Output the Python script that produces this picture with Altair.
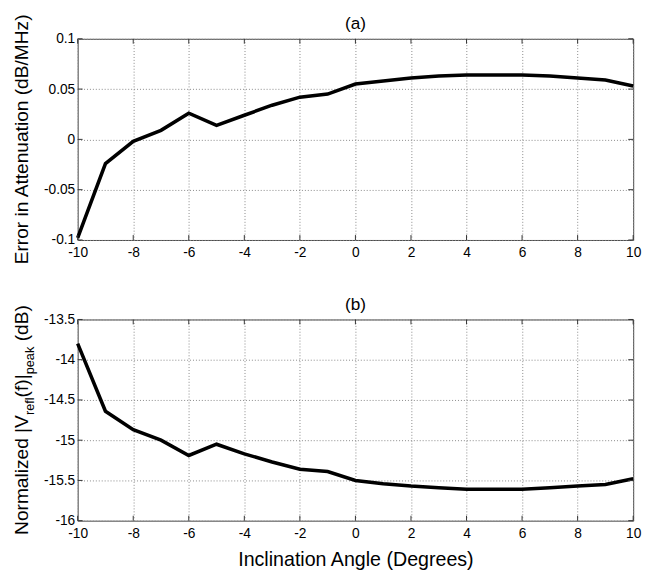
import altair as alt
import pandas as pd

# ---------------- data ----------------
angles = list(range(-10, 11))
atten_err = [-0.098, -0.024, -0.002, 0.009, 0.026, 0.014, 0.024, 0.034, 0.042,
             0.045, 0.055, 0.058, 0.061, 0.063, 0.064, 0.064, 0.064, 0.063,
             0.061, 0.059, 0.053]
vrefl_peak = [-13.80, -14.64, -14.87, -15.00, -15.19, -15.05, -15.17, -15.27,
              -15.36, -15.39, -15.50, -15.54, -15.57, -15.59, -15.61, -15.61,
              -15.61, -15.59, -15.57, -15.55, -15.48]
x_ticks = [-10, -8, -6, -4, -2, 0, 2, 4, 6, 8, 10]
ya_ticks = [-0.1, -0.05, 0, 0.05, 0.1]
yb_ticks = [-16, -15.5, -15, -14.5, -14, -13.5]

FONT = "Liberation Sans"
W, H = 566, 205
TITLE_FS = 19.5
SUB_FS = 13
BASE_X = -51      # baseline of rotated y title (relative to plot left)
SUB_SHIFT = 6
TICK_LEN = 5
TICK_COLOR = "#333333"

# Arial / Liberation Sans advance widths (per 1000 em)
ARIAL_W = {' ': 278, '(': 333, ')': 333, '|': 260, 'N': 722, 'o': 556, 'r': 333,
           'm': 833, 'a': 556, 'l': 222, 'i': 222, 'z': 500, 'e': 556, 'd': 556,
           'V': 667, 'f': 278, 'p': 556, 'k': 500, 'B': 667}


def text_width(s, size):
    return sum(ARIAL_W.get(c, 556) for c in s) * size / 1000.0


def one_row():
    return alt.Chart(pd.DataFrame({"k": [0]}))


def make_panel(values, yticks, title, xtitle, ylabel_layers):
    df = pd.DataFrame({"angle": angles, "val": values})
    xscale = alt.Scale(domain=[x_ticks[0], x_ticks[-1]], nice=False, zero=False)
    yscale = alt.Scale(domain=[yticks[0], yticks[-1]], nice=False, zero=False)
    xaxis = alt.Axis(values=x_ticks, labelExpr="toString(datum.value)")
    yaxis = alt.Axis(values=yticks, labelExpr="toString(datum.value)")

    def X(field):
        return alt.X(field, title=xtitle, axis=xaxis, scale=xscale)

    def Y(field):
        return alt.Y(field, title=None, axis=yaxis, scale=yscale)

    line = alt.Chart(df).mark_line(color="black", strokeWidth=3.6).encode(
        x=X("angle:Q"), y=Y("val:Q"))

    xt = alt.Chart(pd.DataFrame({"v": x_ticks}))
    yt = alt.Chart(pd.DataFrame({"v": yticks}))
    rule = dict(color=TICK_COLOR, strokeWidth=1)
    ticks = [
        xt.mark_rule(**rule).encode(x=X("v:Q"), y=alt.value(H), y2=alt.value(H - TICK_LEN)),
        xt.mark_rule(**rule).encode(x=X("v:Q"), y=alt.value(0), y2=alt.value(TICK_LEN)),
        yt.mark_rule(**rule).encode(y=Y("v:Q"), x=alt.value(0), x2=alt.value(TICK_LEN)),
        yt.mark_rule(**rule).encode(y=Y("v:Q"), x=alt.value(W), x2=alt.value(W - TICK_LEN)),
    ]
    ttl = one_row().mark_text(text=title, align="center", baseline="alphabetic", font=FONT,
                              fontSize=17.5, color="black").encode(
        x=alt.value(W / 2), y=alt.value(-10))
    return alt.layer(line, *ticks, ttl, *ylabel_layers).properties(width=W, height=H)


# ---- panel (a) ----
ylab_a = [one_row().mark_text(text="Error in Attenuation (dB/MHz)", angle=270, align="center",
                              baseline="alphabetic", font=FONT, fontSize=TITLE_FS, color="black"
                              ).encode(x=alt.value(BASE_X), y=alt.value(H / 2))]
top = make_panel(atten_err, ya_ticks, "(a)", None, ylab_a)

# ---- panel (b): label with subscripts, built from segments ----
segments = [("Normalized |V", False), ("refl", True), ("(f)|", False), ("peak", True), (" (dB)", False)]
widths = [text_width(s, SUB_FS if sub else TITLE_FS) for s, sub in segments]
total = sum(widths)
pos = H / 2 + total / 2
ylab_b = []
for (s, sub), w in zip(segments, widths):
    fs = SUB_FS if sub else TITLE_FS
    lead = len(s) - len(s.lstrip(" "))
    start = pos - text_width(" " * lead, fs)   # SVG drops leading spaces
    ylab_b.append(
        one_row().mark_text(text=s.lstrip(" "), angle=270, align="left", baseline="alphabetic",
                            font=FONT, fontSize=fs, color="black")
        .encode(x=alt.value(BASE_X + (SUB_SHIFT if sub else 0)), y=alt.value(start))
    )
    pos -= w
bottom = make_panel(vrefl_peak, yb_ticks, "(b)", "Inclination Angle (Degrees)", ylab_b)

chart = (
    alt.vconcat(top, bottom, spacing=30)
    .properties(padding={"left": 3, "top": 0, "right": 0, "bottom": 0})
    .configure_view(stroke="#444444", strokeWidth=1)
    .configure_axis(
        grid=True, gridDash=[1, 2], gridColor="#888888", gridOpacity=1, gridWidth=1,
        ticks=False, domain=False, labelFont=FONT, labelFontSize=14, labelColor="black",
        labelFlush=False, labelOverlap=False,
        titleFont=FONT, titleFontSize=20, titleFontWeight="normal", titleColor="black",
    )
    .configure_axisX(labelPadding=6, titlePadding=10)
    .configure_axisY(labelPadding=3)
)

chart.save("out.html", embed_options={"renderer": "svg", "actions": False})
